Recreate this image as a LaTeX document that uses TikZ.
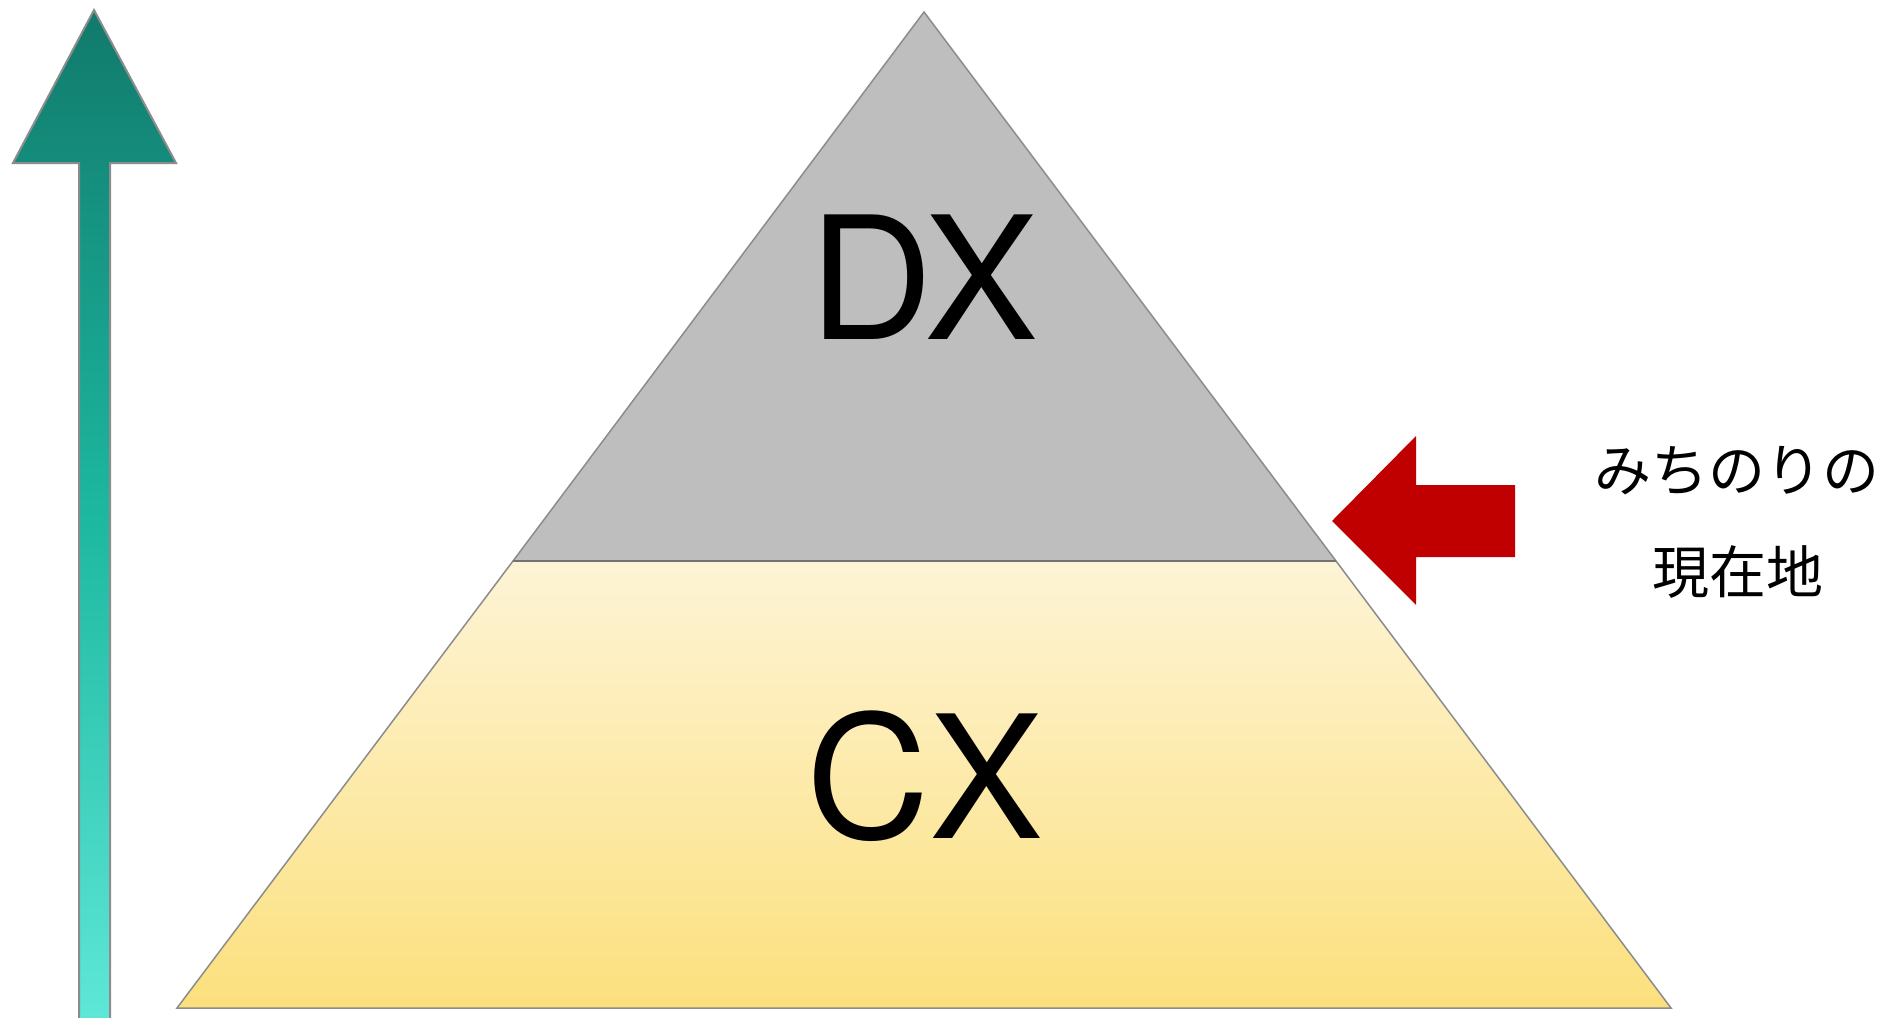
\documentclass[tikz,border=0pt]{standalone}
\usepackage{fontspec}
\setmainfont{TeX Gyre Heros}
\newfontfamily\cjk{Noto Sans CJK JP}
\definecolor{tealtop}{RGB}{17,122,108}
\definecolor{tealmid}{RGB}{29,184,160}
\definecolor{tealbot}{RGB}{96,232,216}
\definecolor{dxgray}{RGB}{190,190,190}
\definecolor{cxtop}{RGB}{253,244,214}
\definecolor{cxbot}{RGB}{252,224,125}
\definecolor{edgegray}{RGB}{140,140,140}
\definecolor{arrowred}{RGB}{192,0,0}
\tikzset{
  layeredge/.style={draw=edgegray, line width=1.5pt, line join=miter},
  bigtext/.style={font=\fontsize{171}{171}\selectfont, inner sep=0pt, anchor=base},
  jptext/.style={font=\cjk\fontsize{57}{57}\selectfont, inner sep=0pt, anchor=center}
}
\begin{document}
\begin{tikzpicture}[x=1pt,y=-1pt]
\useasboundingbox (0,0) rectangle (1892,1017);
% green up arrow
\begin{scope}
\clip (0,0) rectangle (1892,1017);
\shade[top color=tealtop, bottom color=tealbot, middle color=tealmid, draw=edgegray, line width=2pt]
  (94,10) -- (176,163) -- (110,163) -- (110,1030) -- (79,1030) -- (79,163) -- (13,163) -- cycle;
\end{scope}
% pyramid: CX layer
\shade[top color=cxtop, bottom color=cxbot, layeredge]
  (513,561) -- (1336,561) -- (1671,1008) -- (177,1008) -- cycle;
% pyramid: DX layer
\fill[dxgray] (924,12) -- (1336,561) -- (513,561) -- cycle;
\draw[layeredge] (513,561) -- (924,12) -- (1336,561);
\draw[draw=gray!90!black, line width=1.5pt] (513,561) -- (1336,561);
% labels
\node[bigtext] (dx) at (924,339) {DX};
\node[bigtext] (cx) at (925,838) {CX};
% red arrow
\fill[arrowred] (1332,521) -- (1416,436) -- (1416,485) -- (1515,485) -- (1515,557) -- (1416,557) -- (1416,605) -- cycle;
\node[jptext] (l1) at (1737,471) {みちのりの};
\node[jptext] (l2) at (1738,572) {現在地};
\end{tikzpicture}
\end{document}
